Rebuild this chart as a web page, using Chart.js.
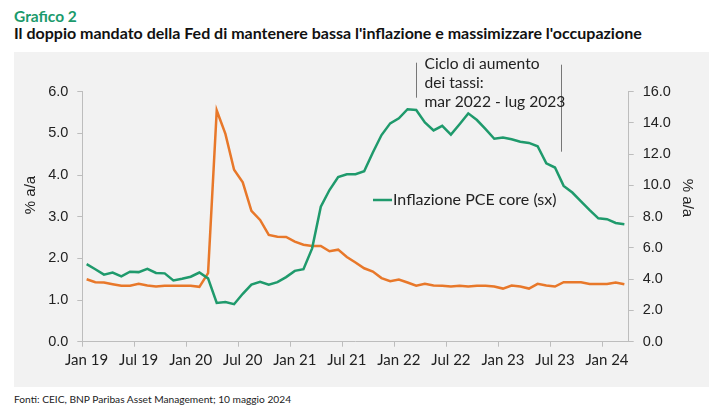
<!DOCTYPE html>
<html>
<head>
<meta charset="utf-8">
<script src="https://cdn.jsdelivr.net/npm/chart.js@4"></script>
<style>
  body { margin: 0; background: #fff; width: 725px; height: 410px; position: relative; overflow: hidden; font-family: Lato, sans-serif; }
  .t { position: absolute; left: 14px; white-space: nowrap; line-height: 1; }
  #num { top: 9px; font-size: 15.5px; font-weight: bold; color: #1b9a6c; }
  #title { top: 25px; font-size: 16px; font-weight: bold; color: #111; }
  #src { top: 394px; font-size: 10.2px; color: #222; }
  #panel { position: absolute; left: 14px; top: 52px; width: 695px; height: 335px; background: #f2f2f2; }
</style>
</head>
<body>
<div class="t" id="num">Grafico 2</div>
<div class="t" id="title">Il doppio mandato della Fed di mantenere bassa l'inflazione e massimizzare l'occupazione</div>
<div id="panel"><canvas id="chart" width="695" height="335"></canvas></div>
<div class="t" id="src">Fonti: CEIC, BNP Paribas Asset Management; 10 maggio 2024</div>
<script>
// months Jan 2019 - Mar 2024
const months = [
  'Jan 19','Feb 19','Mar 19','Apr 19','May 19','Jun 19','Jul 19','Aug 19','Sep 19','Oct 19','Nov 19','Dec 19',
  'Jan 20','Feb 20','Mar 20','Apr 20','May 20','Jun 20','Jul 20','Aug 20','Sep 20','Oct 20','Nov 20','Dec 20',
  'Jan 21','Feb 21','Mar 21','Apr 21','May 21','Jun 21','Jul 21','Aug 21','Sep 21','Oct 21','Nov 21','Dec 21',
  'Jan 22','Feb 22','Mar 22','Apr 22','May 22','Jun 22','Jul 22','Aug 22','Sep 22','Oct 22','Nov 22','Dec 22',
  'Jan 23','Feb 23','Mar 23','Apr 23','May 23','Jun 23','Jul 23','Aug 23','Sep 23','Oct 23','Nov 23','Dec 23',
  'Jan 24','Feb 24','Mar 24'
];
const tickLabels = ['Jan 19','Jul 19','Jan 20','Jul 20','Jan 21','Jul 21','Jan 22','Jul 22','Jan 23','Jul 23','Jan 24'];

// Inflazione PCE core (sx), % a/a
const pceCore = [
  1.86, 1.74, 1.61, 1.66, 1.57, 1.68, 1.67, 1.75, 1.65, 1.64,
  1.47, 1.51, 1.56, 1.66, 1.52, 0.93, 0.95, 0.90, 1.15, 1.37,
  1.44, 1.37, 1.43, 1.55, 1.70, 1.74, 2.24, 3.24, 3.64, 3.95,
  4.02, 4.02, 4.09, 4.54, 4.96, 5.24, 5.36, 5.58, 5.56, 5.26,
  5.07, 5.18, 4.97, 5.22, 5.48, 5.32, 5.10, 4.87, 4.90, 4.86,
  4.80, 4.77, 4.69, 4.28, 4.18, 3.74, 3.58, 3.37, 3.16, 2.96,
  2.94, 2.85, 2.82
];
// tasso di disoccupazione (dx), %
const unemployment = [
  4.0, 3.81, 3.79, 3.68, 3.58, 3.58, 3.70, 3.60, 3.53, 3.58,
  3.58, 3.58, 3.58, 3.51, 4.39, 14.8, 13.3, 11.0, 10.2, 8.38,
  7.79, 6.83, 6.72, 6.70, 6.40, 6.21, 6.13, 6.13, 5.79, 5.89,
  5.42, 5.07, 4.70, 4.49, 4.07, 3.87, 3.98, 3.79, 3.58, 3.70,
  3.60, 3.58, 3.53, 3.58, 3.53, 3.58, 3.58, 3.53, 3.40, 3.60,
  3.53, 3.40, 3.70, 3.60, 3.53, 3.81, 3.81, 3.81, 3.70, 3.70,
  3.70, 3.79, 3.68
];

const green = '#1f9a6c';
const orange = '#e8782a';
const axisGrey = '#bdbdbd';

// annotation, titles, legend
const extras = {
  id: 'extras',
  afterDatasetsDraw(chart) {
    const ctx = chart.ctx, x = chart.scales.x, a = chart.chartArea;
    ctx.save();
    // rate hike cycle markers
    ctx.strokeStyle = '#777';
    ctx.lineWidth = 1;
    const x1 = Math.round(x.getPixelForValue(38)) + 0.5;
    const x2 = Math.round(x.getPixelForValue(54.75)) + 0.5;
    ctx.beginPath();
    ctx.moveTo(x1, a.top - 29); ctx.lineTo(x1, a.top + 6);
    ctx.moveTo(x2, a.top - 27); ctx.lineTo(x2, a.top + 60);
    ctx.stroke();
    ctx.fillStyle = '#222';
    ctx.font = '15.6px Lato';
    ctx.textBaseline = 'alphabetic';
    ctx.fillText('Ciclo di aumento', x1 + 8, a.top - 23);
    ctx.fillText('dei tassi:', x1 + 8, a.top - 4);
    ctx.fillText('mar 2022 - lug 2023', x1 + 8, a.top + 15);
    // legend
    ctx.strokeStyle = green;
    ctx.lineWidth = 2.5;
    ctx.beginPath();
    ctx.moveTo(359, 148); ctx.lineTo(378, 148);
    ctx.stroke();
    ctx.font = '16px Lato';
    ctx.textBaseline = 'middle';
    ctx.fillText('Inflazione PCE core (sx)', 379, 148);
    // axis titles
    ctx.font = '15px "Liberation Sans"';
    ctx.textAlign = 'center';
    ctx.save();
    ctx.translate(17, 143);
    ctx.rotate(-Math.PI / 2);
    ctx.fillText('% a/a', 0, 0);
    ctx.restore();
    ctx.save();
    ctx.translate(673, 146);
    ctx.rotate(Math.PI / 2);
    ctx.fillText('% a/a', 0, 0);
    ctx.restore();
    ctx.restore();
  }
};

new Chart(document.getElementById('chart'), {
  type: 'line',
  data: {
    labels: months,
    datasets: [{
      label: 'Inflazione PCE core (sx)',
      data: pceCore,
      yAxisID: 'y',
      borderColor: green,
      borderWidth: 2.5,
      pointRadius: 0,
      tension: 0
    }, {
      label: 'Disoccupazione (dx)',
      data: unemployment,
      yAxisID: 'y2',
      borderColor: orange,
      borderWidth: 2.5,
      pointRadius: 0,
      tension: 0
    }]
  },
  options: {
    responsive: false,
    animation: false,
    layout: { padding: { top: 39.7, left: 0, right: 0, bottom: 0 } },
    plugins: { legend: { display: false }, tooltip: { enabled: false } },
    scales: {
      x: {
        offset: true,
        grid: {
          offset: true,
          drawOnChartArea: false,
          tickLength: 5,
          color: c => (c.index % 6 === 0 && c.index < months.length) ? axisGrey : 'transparent'
        },
        border: { color: axisGrey },
        ticks: {
          autoSkip: false,
          maxRotation: 0,
          padding: 4,
          color: '#222',
          font: { family: 'Lato', size: 15 },
          callback: (v, i) => tickLabels.includes(months[i]) ? months[i] : ''
        },
        afterFit: s => { s.height = 45.3; }
      },
      y: {
        position: 'left',
        min: 0, max: 6,
        grid: { drawOnChartArea: false, tickLength: 5, color: axisGrey },
        border: { color: axisGrey },
        ticks: {
          stepSize: 1,
          padding: 9,
          color: '#222',
          font: { family: 'Liberation Sans', size: 14.5 },
          callback: v => v.toFixed(1)
        },
        afterFit: s => { s.width = 68.3; }
      },
      y2: {
        position: 'right',
        min: 0, max: 16,
        grid: { drawOnChartArea: false, tickLength: 5, color: axisGrey },
        border: { color: axisGrey },
        ticks: {
          stepSize: 2,
          padding: 9,
          color: '#222',
          font: { family: 'Liberation Sans', size: 14.5 },
          callback: v => v.toFixed(1)
        },
        afterFit: s => { s.width = 80.3; }
      }
    }
  },
  plugins: [extras]
});
</script>
</body>
</html>
